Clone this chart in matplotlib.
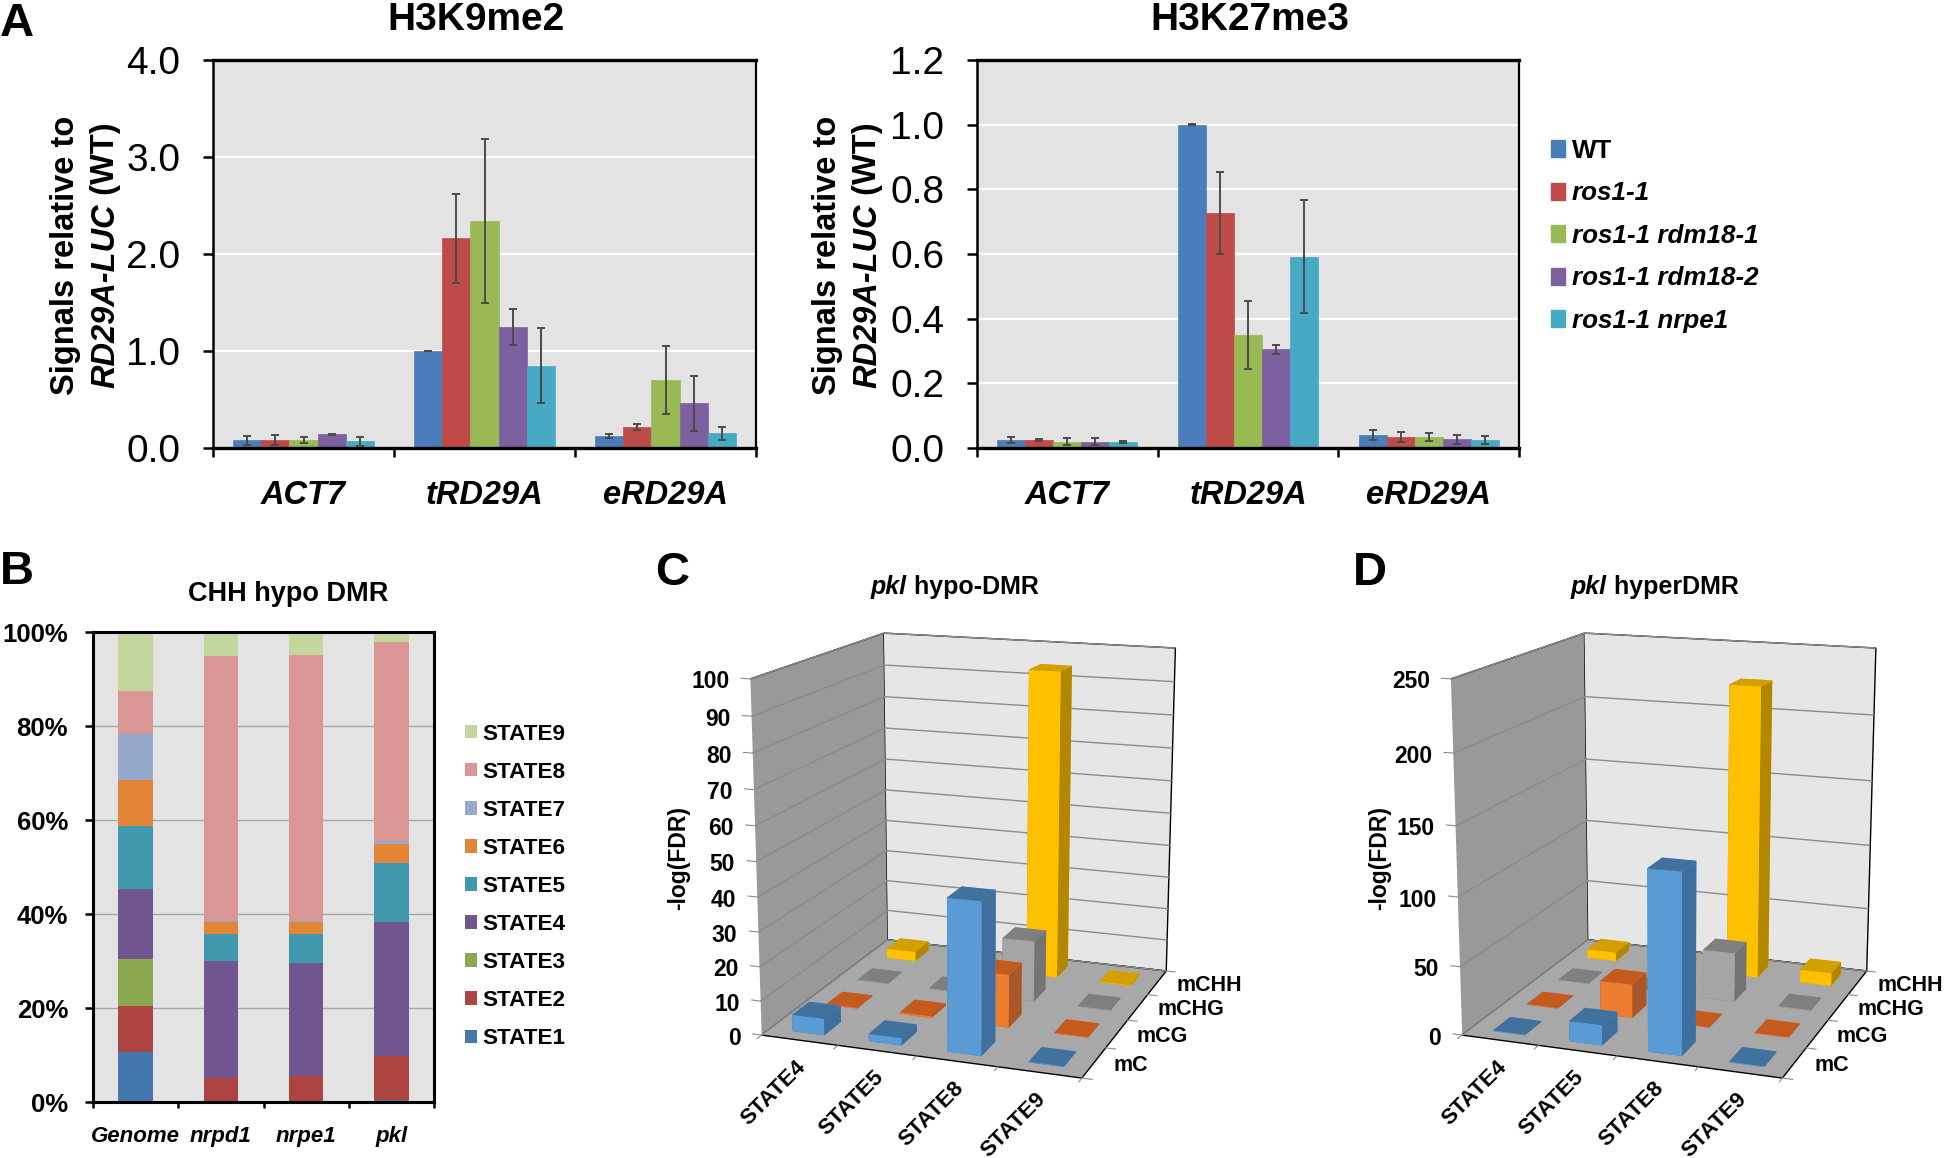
import numpy as np
import matplotlib
matplotlib.use("Agg")
import matplotlib.pyplot as plt
from matplotlib.patches import Patch

plt.rcParams['font.family'] = ['Liberation Sans', 'DejaVu Sans']
W, H = 1944, 1158

# ---------- data ----------
genes = ['ACT7', 'tRD29A', 'eRD29A']
genotypes = ['WT', 'ros1-1', 'ros1-1 rdm18-1', 'ros1-1 rdm18-2', 'ros1-1 nrpe1']
geno_colors = ['#4a7ebb', '#be4b48', '#98b954', '#7d60a0', '#46aac4']
k9_vals = [[.08, 1.0, .12], [.08, 2.16, .22], [.08, 2.34, .70], [.14, 1.25, .46], [.07, .85, .15]]
k9_errs = [[.045, .005, .02], [.05, .46, .03], [.03, .85, .35], [.005, .185, .28], [.045, .39, .07]]
k27_vals = [[.025, 1.0, .04], [.025, .727, .035], [.02, .35, .035], [.02, .305, .027], [.018, .592, .025]]
k27_errs = [[.008, .001, .016], [.004, .127, .016], [.01, .105, .012], [.012, .015, .014], [.003, .175, .012]]

samples = ['Genome', 'nrpd1', 'nrpe1', 'pkl']
states = ['STATE%d' % i for i in range(1, 10)]
state_colors = ['#4477ae', '#ad4442', '#8aa84e', '#71558f', '#3f98ae', '#e28536', '#95a9cd', '#d99694', '#c3d69b']
state_frac = {
    'Genome': [10.65, 9.75, 10.0, 15.0, 13.3, 9.8, 9.9, 9.0, 12.6],
    'nrpd1': [0.3, 4.9, 0.0, 24.7, 5.9, 2.5, 0.3, 56.4, 5.0],
    'nrpe1': [0.3, 5.2, 0.0, 24.1, 6.2, 2.5, 0.3, 56.6, 4.8],
    'pkl': [0.5, 9.2, 0.0, 28.6, 12.5, 4.2, 0.5, 42.4, 2.1],
}

states3d = ['STATE4', 'STATE5', 'STATE8', 'STATE9']
contexts = ['mC', 'mCG', 'mCHG', 'mCHH']
ctx_front = ['#5b9bd5', '#ed7d31', '#a5a5a5', '#ffc000']
ctx_side = ['#3f6f9c', '#a9562a', '#747474', '#b38600']
ctx_top = ['#41729f', '#c55a1e', '#7f7f7f', '#d49f00']
hypo_vals = [[4.8, 2.1, 43.5, 0.2], [0.2, 0.5, 15.6, 0.2], [0.2, 0.2, 18.4, 0.2], [3, 0.2, 94, 0.2]]
hyper_vals = [[0.5, 14.6, 129, 0.5], [0.5, 25, 0.5, 0.5], [0.5, 0.5, 37, 0.5], [7, 0.5, 224, 10]]
hypo_ticks = list(range(0, 101, 10))
hyper_ticks = list(range(0, 251, 50))

# camera that reproduces the reference's 3D view
ELEV, AZIM, RY, RZ, ZOOM = 14.481, -70.252, 0.9913, 1.0796, 1.6925
SCALE_F1, TX, TY = 1782.0, 974.30, 836.17


# ---------- helpers ----------
def rect(x0, y0, x1, y1):
    return [x0 / W, 1 - y1 / H, (x1 - x0) / W, (y1 - y0) / H]


fig = plt.figure(figsize=(W / 100, H / 100), dpi=100, facecolor='white')
rend = fig.canvas.get_renderer()


def txt_width(s, **kw):
    a = fig.text(0, 0, s + '.', **kw)
    b = fig.text(0, 0, '.', **kw)
    w = a.get_window_extent(rend).width - b.get_window_extent(rend).width
    a.remove(); b.remove()
    return w


def rich(x, y, parts, size, rotation=0, center=False):
    dirx, diry = (0, -1) if rotation == 90 else (1, 0)
    widths = [txt_width(s, fontsize=size, fontweight='bold', fontstyle=st) for s, st in parts]
    if center:
        t = sum(widths) / 2
        x -= dirx * t
        y -= diry * t
    for (s, st), w in zip(parts, widths):
        fig.text(x / W, 1 - y / H, s, fontsize=size, fontweight='bold', fontstyle=st, ha='left', va='baseline',
                 rotation=rotation, rotation_mode='anchor')
        x += dirx * w
        y += diry * w


def letter(x, y, s):
    fig.text(x / W, 1 - y / H, s, fontsize=34, fontweight='bold', ha='left', va='baseline')


def panel_a(r, vals, errs, ymax, ticks, title, tx, labx):
    ax = fig.add_axes(rect(*r))
    ax.set_facecolor('#e3e3e3')
    bw = 0.155
    for i, (v, e, c) in enumerate(zip(vals, errs, geno_colors)):
        xs = np.arange(3) + 0.5 + (i - 2) * bw
        ax.bar(xs, v, bw, color=c, edgecolor=c, linewidth=0.5, zorder=2)
        ax.errorbar(xs, v, yerr=e, fmt='none', ecolor='#4a4a4a', elinewidth=1.4, capsize=2.8, capthick=1.4, zorder=3)
    ax.set_xlim(0, 3)
    ax.set_ylim(0, ymax)
    ax.set_yticks(ticks)
    ax.set_yticklabels(['%.1f' % t for t in ticks], fontsize=28)
    ax.grid(axis='y', color='white', lw=1.6, zorder=1)
    ax.set_axisbelow(True)
    ax.set_xticks([.5, 1.5, 2.5])
    ax.set_xticklabels(genes, fontsize=23.5, fontweight='bold', fontstyle='italic')
    ax.set_xticks([0, 1, 2, 3], minor=True)
    ax.tick_params(axis='x', which='major', length=0, pad=23)
    ax.tick_params(axis='x', which='minor', length=6.5, width=1.8)
    ax.tick_params(axis='y', length=7.5, width=1.8, pad=16)
    for k, lw in zip(['left', 'bottom', 'top', 'right'], [1.8, 2.4, 2.4, 1.6]):
        ax.spines[k].set_linewidth(lw)
    fig.text(tx / W, 1 - 30 / H, title, fontsize=28, fontweight='bold', ha='center', va='baseline')
    rich(labx, 255, [('Signals relative to', 'normal')], 23.5, rotation=90, center=True)
    rich(labx + 40, 255, [('RD29A-LUC', 'italic'), (' (WT)', 'normal')], 23.5, rotation=90, center=True)
    return ax


# ---------- panel A ----------
panel_a((213, 60, 756, 448), k9_vals, k9_errs, 4.0, [0, 1, 2, 3, 4], 'H3K9me2', 476, 74)
panel_a((977, 60, 1519, 448), k27_vals, k27_errs, 1.2, [0, .2, .4, .6, .8, 1.0, 1.2], 'H3K27me3', 1250, 836)
handles = [Patch(color=c) for c in geno_colors]
leg = fig.legend(handles, genotypes, loc='upper left', bbox_to_anchor=(1551 / W, 1 - 139 / H), frameon=False,
                 prop={'size': 18.7, 'weight': 'bold', 'style': 'italic'}, borderpad=0, borderaxespad=0,
                 labelspacing=0.71, handlelength=0.54, handleheight=0.62, handletextpad=0.27)
leg.get_texts()[0].set_fontstyle('normal')
letter(0, 36, 'A')

# ---------- panel B ----------
axb = fig.add_axes(rect(93, 632, 434, 1102))
axb.set_facecolor('#e3e3e3')
bottom = np.zeros(4)
for j, (st, c) in enumerate(zip(states, state_colors)):
    v = np.array([state_frac[s][j] for s in samples])
    axb.bar(np.arange(4) + .5, v, 0.405, bottom=bottom, color=c, linewidth=0, zorder=2, label=st)
    bottom += v
axb.set_xlim(0, 4)
axb.set_ylim(0, 100)
axb.set_yticks(range(0, 101, 20))
axb.set_yticklabels(['%d%%' % t for t in range(0, 101, 20)], fontsize=18.5, fontweight='bold')
axb.grid(axis='y', color='#a8a8a8', lw=1.0)
axb.set_axisbelow(True)
axb.set_xticks([.5, 1.5, 2.5, 3.5])
axb.set_xticklabels(samples, fontsize=16, fontweight='bold', fontstyle='italic')
axb.set_xticks([0, 1, 2, 3, 4], minor=True)
axb.tick_params(axis='x', which='major', length=0, pad=17)
axb.tick_params(axis='x', which='minor', length=4.5, width=1.8)
axb.tick_params(axis='y', length=6, width=1.8, pad=12)
for s in axb.spines.values():
    s.set_linewidth(2.2)
fig.text(288 / W, 1 - 601 / H, 'CHH hypo DMR', fontsize=19.5, fontweight='bold', ha='center', va='baseline')
h, l = axb.get_legend_handles_labels()
fig.legend(h[::-1], l[::-1], loc='upper left', bbox_to_anchor=(465 / W, 1 - 723.5 / H), frameon=False,
           prop={'size': 16.2, 'weight': 'bold'}, borderpad=0, borderaxespad=0, labelspacing=0.76,
           handlelength=0.55, handleheight=0.55, handletextpad=0.22)
letter(0, 584, 'B')


def panel3d(dx, vals, zticks, parts, tlx, lett, lettx):
    zmax = zticks[-1]
    L = 700.0
    ax = fig.add_axes([0.1, 0.1, L / W, L / H], projection='3d', computed_zorder=False)
    ax.patch.set_alpha(0)
    ax.apply_aspect()
    p0 = ax.transData.transform((0, 0))
    s = ax.transData.transform((1, 1))[0] - p0[0]
    k = s / SCALE_F1
    # place the 2D origin of the 3D view where the reference's camera centre lies
    ax.set_position([(0.1 * W + (TX + dx - p0[0])) / W, (0.1 * H + (H - TY - p0[1])) / H, L / W, L / H])
    ax.apply_aspect()
    ax.set_xlim(0, 4); ax.set_ylim(0, 4); ax.set_zlim(0, zmax)
    ax.view_init(elev=ELEV, azim=AZIM)
    ax.set_box_aspect((1, RY, RZ), zoom=ZOOM / k)
    ax.set_proj_type('persp', focal_length=1 / k)
    ax.xaxis.set_pane_color('#999999')
    ax.yaxis.set_pane_color('#e6e6e6')
    ax.zaxis.set_pane_color('#a8a8a8')
    for a in (ax.xaxis, ax.yaxis, ax.zaxis):
        a.line.set_color((0, 0, 0, 0))
        a.pane.set_edgecolor((0, 0, 0, 0))
    ax.set_xticks([]); ax.set_yticks([])
    ax.set_zticks(zticks)
    ax.set_zticklabels([])
    ax.zaxis._axinfo['tick'].update(inward_factor=0, outward_factor=0)
    ax.zaxis._axinfo['grid'].update(color='#8c8c8c', linewidth=1.0)
    ax.grid(True)
    bw, bd = 0.42, 0.5
    zo = 5
    for yi in range(3, -1, -1):
        for xi in range(4):
            cols = [ctx_top[yi], ctx_top[yi], ctx_front[yi], ctx_front[yi], ctx_side[yi], ctx_side[yi]]
            ax.bar3d(xi + .5 - bw / 2, yi + .5 - bd / 2, 0, bw, bd, vals[yi][xi], color=cols, shade=False,
                     linewidth=0, zorder=zo)
            zo += 1

    M = ax.get_proj()

    def label(x, y, z, text, off, **kw):
        # write a text beside the projected position of a 3D point
        v = M @ np.array([x, y, z, 1.0])
        px = ax.transData.transform((v[0] / v[3], v[1] / v[3]))
        fig.text((px[0] + off[0]) / W, (px[1] - off[1]) / H, text, fontweight='bold', **kw)

    for z in zticks:
        label(0, 0, z, str(z), (-21, 3), fontsize=16.5, ha='right', va='center')
        ax.plot([0, -0.12], [0, 0], [z, z], color='#8c8c8c', lw=0.8, zorder=4)
    for i, st in enumerate(states3d):
        label(i + .5, 0, 0, st, (-4, 16), fontsize=16, rotation=45, rotation_mode='anchor', ha='right', va='top')
    for i in range(5):
        ax.plot([i, i], [0, -0.12], [0, 0], color='#8c8c8c', lw=0.8, zorder=4)
        ax.plot([4, 4.12], [i, i], [0, 0], color='#8c8c8c', lw=0.8, zorder=4)
    for i, c in enumerate(contexts):
        label(4, i + .5, 0, c, (19.5, 2.5), fontsize=15.5, ha='left', va='center')
    rich(tlx, 594, parts, 18)
    fig.text((679 + dx) / W, 1 - 858 / H, '-log(FDR)', fontsize=16.5, fontweight='bold', rotation=90, ha='center', va='center')
    letter(lettx, 585, lett)


panel3d(0, hypo_vals, hypo_ticks, [('pkl', 'italic'), (' hypo-DMR', 'normal')], 871, 'C', 655)
panel3d(700.5, hyper_vals, hyper_ticks, [('pkl', 'italic'), (' hyperDMR', 'normal')], 1571, 'D', 1353)

fig.savefig('out.png', dpi=100)
